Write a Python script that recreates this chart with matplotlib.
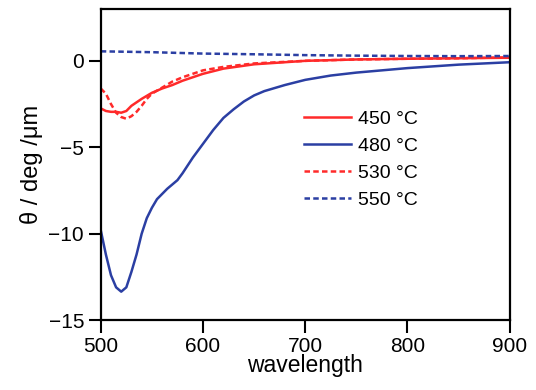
import matplotlib.pyplot as plt

plt.rcParams['font.family'] = ['Liberation Sans', 'DejaVu Sans']

# 450 C (solid red)
wl_450 = [500, 505, 510, 515, 520, 525, 530, 540, 550, 560, 570, 580, 590, 600, 620, 650, 700, 750, 800, 850, 900]
th_450 = [-2.75, -2.9, -2.95, -2.95, -3.0, -2.9, -2.6, -2.2, -1.85, -1.6, -1.4, -1.15, -0.95, -0.75, -0.45, -0.2, 0.0, 0.08, 0.12, 0.15, 0.18]

# 480 C (solid blue)
wl_480 = [500, 505, 510, 515, 520, 525, 530, 535, 540, 545, 550, 555, 560, 565, 570, 575, 580, 590, 600, 610, 620,
          630, 640, 650, 660, 680, 700, 725, 750, 775, 800, 825, 850, 875, 900]
th_480 = [-9.8, -11.2, -12.4, -13.1, -13.35, -13.1, -12.2, -11.2, -10.0, -9.1, -8.5, -8.0, -7.7, -7.4, -7.15, -6.9, -6.5,
          -5.6, -4.8, -4.0, -3.3, -2.8, -2.35, -2.0, -1.75, -1.4, -1.1, -0.85, -0.68, -0.55, -0.42, -0.32, -0.22, -0.15, -0.08]

# 530 C (dashed red)
wl_530 = [500, 505, 510, 515, 520, 525, 530, 535, 540, 545, 550, 560, 570, 580, 590, 600, 620, 650, 700, 750, 800, 850, 900]
th_530 = [-1.6, -1.9, -2.5, -3.0, -3.25, -3.35, -3.2, -2.95, -2.6, -2.2, -1.9, -1.55, -1.2, -0.95, -0.75, -0.55, -0.35,
          -0.15, 0.0, 0.08, 0.12, 0.15, 0.2]

# 550 C (dashed blue)
wl_550 = [500, 550, 600, 650, 700, 750, 800, 850, 900]
th_550 = [0.55, 0.5, 0.42, 0.38, 0.33, 0.3, 0.28, 0.27, 0.28]

red = '#ff2a2a'
blue = '#2b3fa3'
dash = (0, (2.2, 1.3))

fig = plt.figure(figsize=(5.36, 3.9), dpi=100)
ax = fig.add_axes([0.188, 0.179, 0.763, 0.798])

ax.plot(wl_450, th_450, color=red, lw=1.8, label='450 °C')
ax.plot(wl_480, th_480, color=blue, lw=1.8, label='480 °C')
ax.plot(wl_530, th_530, color=red, lw=1.8, ls=dash, label='530 °C')
ax.plot(wl_550, th_550, color=blue, lw=1.8, ls=dash, label='550 °C')

ax.set_xlim(500, 900)
ax.set_ylim(-15, 3)
ax.set_xticks([500, 600, 700, 800, 900])
ax.set_yticks([0, -5, -10, -15])
ax.tick_params(direction='out', length=9, width=1.5, labelsize=15, pad=3, top=False, right=False)
for s in ax.spines.values():
    s.set_linewidth(1.6)

ax.set_xlabel('wavelength', fontsize=16.5, labelpad=-1)
ax.set_ylabel('θ / deg /μm', fontsize=17, labelpad=4)

ax.legend(loc='upper left', bbox_to_anchor=(0.455, 0.73), frameon=False, fontsize=14,
          handlelength=2.4, handletextpad=0.35, labelspacing=0.48)

fig.savefig('out.png', dpi=100)
